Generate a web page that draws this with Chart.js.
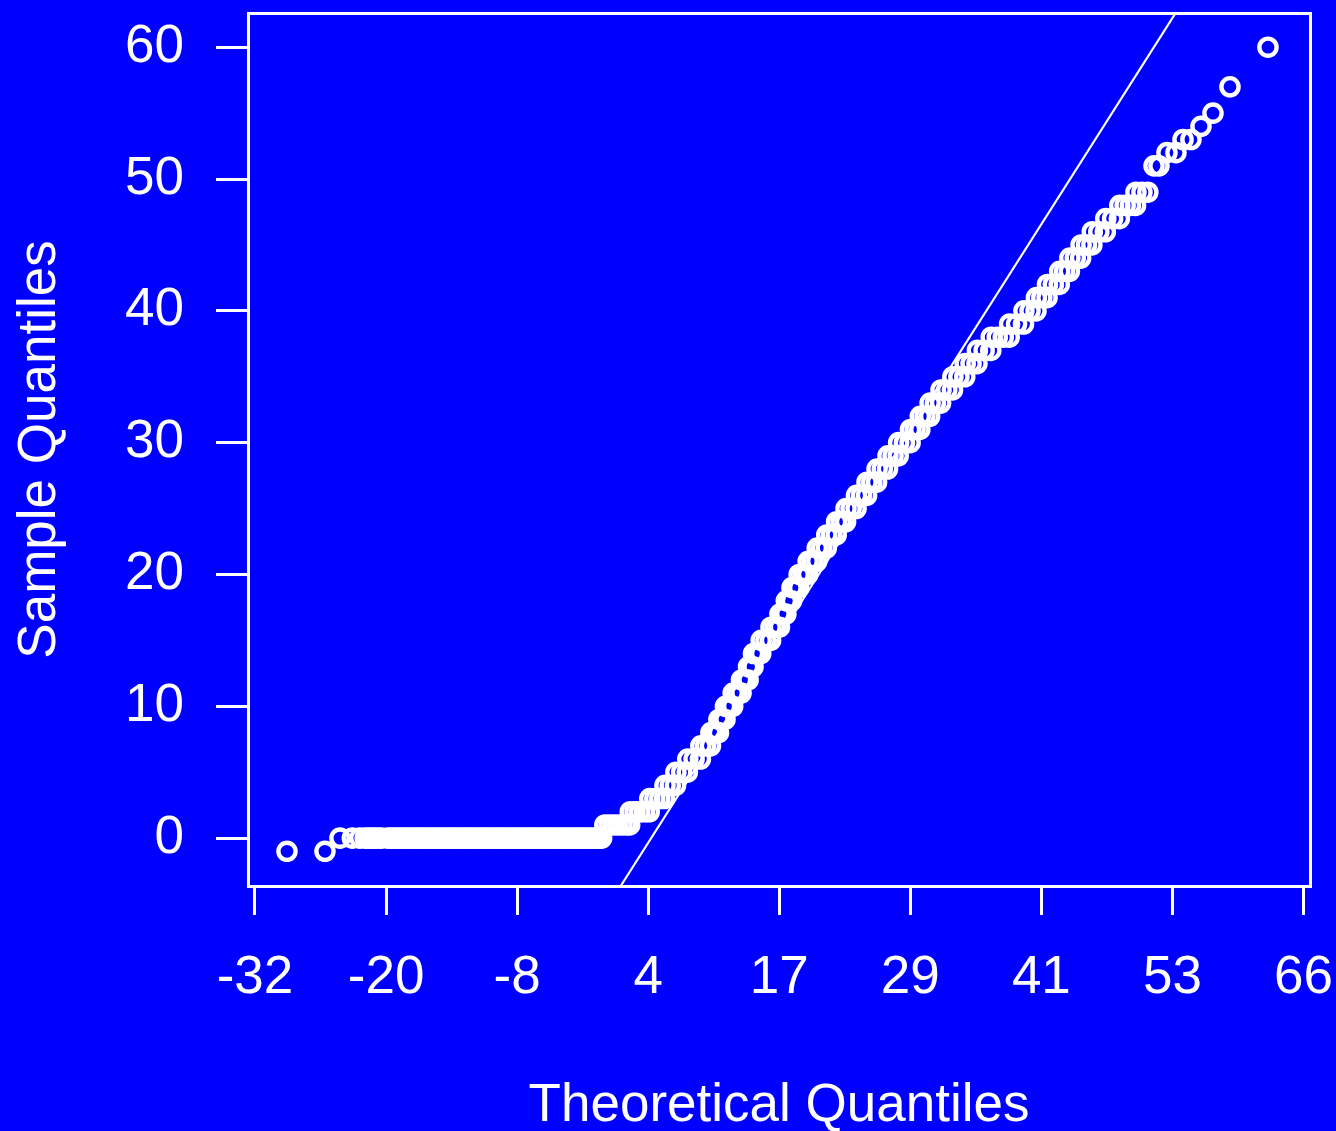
<!DOCTYPE html>
<html><head><meta charset="utf-8">
<script src="https://cdn.jsdelivr.net/npm/chart.js@4.4.1/dist/chart.umd.min.js"></script>
<style>html,body{margin:0;padding:0;background:#0000ff;overflow:hidden}</style>
</head><body>
<canvas id="c" width="1336" height="1131"></canvas>
<script>
// ---- data ----
const xTickValues = [-32.4, -20.15, -7.9, 4.35, 16.6, 28.85, 41.1, 53.35, 65.6];
const xTickLabels = ['-32', '-20', '-8', '4', '17', '29', '41', '53', '66'];
const yTickValues = [0, 10, 20, 30, 40, 50, 60];
const yTickLabels = ['0', '10', '20', '30', '40', '50', '60'];

// lowest sample values
const lowTailX = [-29.41, -25.86];
const lowTailY = [-1, -1];

// run of zero-valued samples
const zeroX = [-24.46,-23.3,-22.6,-22.1,-21.8,-21.5,-21.2,-20.9,-20.6,-20.0,-19.7,-19.4,-19.1,-18.8,-18.5,-18.2,-17.9,-17.6,-17.3,-17.0,-16.7,-16.4,-16.1,-15.8,-15.5,-15.2,-14.9,-14.6,-14.3,-14.0,-13.7,-13.4,-13.1,-12.8,-12.5,-12.2,-11.9,-11.6,-11.3,-11.0,-10.7,-10.4,-10.1,-9.8,-9.5,-9.2,-8.9,-8.6,-8.3,-8.0,-7.7,-7.4,-7.1,-6.8,-6.5,-6.2,-5.9,-5.6,-5.3,-5.0,-4.7,-4.4,-4.1,-3.8,-3.5,-3.2,-2.9,-2.6,-2.3,-2.0,-1.7,-1.4,-1.1,-0.8,-0.5,-0.2,0.0];
const zeroY = [0,0,0,0,0,0,0,0,0,0,0,0,0,0,0,0,0,0,0,0,0,0,0,0,0,0,0,0,0,0,0,0,0,0,0,0,0,0,0,0,0,0,0,0,0,0,0,0,0,0,0,0,0,0,0,0,0,0,0,0,0,0,0,0,0,0,0,0,0,0,0,0,0,0,0,0,0];

// main band: tied integer sample values 1..49 (one line per value)
const bandX = [
 0.30,0.70,1.10,1.50,1.90,2.30,2.62,
 2.68,3.12,3.56,4.00,4.45,
 4.50,4.97,5.43,5.88,
 5.92,6.41,6.90,
 6.94,7.48,8.01,
 8.05,8.64,9.23,
 9.27,9.72,10.17,
 10.21,10.57,10.92,
 10.96,11.25,11.53,
 11.57,11.91,12.25,
 12.29,12.66,13.03,
 13.07,13.38,13.69,
 13.73,13.94,14.15,
 14.19,14.53,14.87,
 14.91,15.35,15.79,
 15.83,16.22,16.62,
 16.66,16.94,17.22,
 17.26,17.50,17.75,
 17.79,18.10,18.42,
 18.46,18.86,19.26,
 19.30,19.70,20.11,
 20.15,20.57,21.00,
 21.04,21.48,21.92,
 21.96,22.38,22.80,
 22.84,23.31,23.78,
 23.82,24.29,24.76,
 24.80,25.25,25.70,
 25.74,26.23,26.72,
 26.76,27.24,27.72,
 27.76,28.30,28.83,
 28.87,29.30,29.74,
 29.78,30.22,30.66,
 30.70,31.19,31.68,
 31.72,32.26,32.79,
 32.83,33.39,33.94,
 33.98,34.53,35.08,
 35.12,35.75,36.37,
 36.41,36.98,37.54,38.09,
 38.13,38.78,39.43,
 39.47,40.04,40.60,
 40.64,41.14,41.63,
 41.67,42.22,42.77,
 42.81,43.27,43.72,
 43.76,44.27,44.77,
 44.81,45.32,45.82,
 45.86,46.47,47.08,
 47.12,47.76,48.39,
 48.43,48.93,49.42,49.90,
 49.94,50.50,51.05];
const bandY = [
 1,1,1,1,1,1,1,
 2,2,2,2,2,
 3,3,3,3,
 4,4,4,
 5,5,5,
 6,6,6,
 7,7,7,
 8,8,8,
 9,9,9,
 10,10,10,
 11,11,11,
 12,12,12,
 13,13,13,
 14,14,14,
 15,15,15,
 16,16,16,
 17,17,17,
 18,18,18,
 19,19,19,
 20,20,20,
 21,21,21,
 22,22,22,
 23,23,23,
 24,24,24,
 25,25,25,
 26,26,26,
 27,27,27,
 28,28,28,
 29,29,29,
 30,30,30,
 31,31,31,
 32,32,32,
 33,33,33,
 34,34,34,
 35,35,35,
 36,36,36,
 37,37,37,
 38,38,38,38,
 39,39,39,
 40,40,40,
 41,41,41,
 42,42,42,
 43,43,43,
 44,44,44,
 45,45,45,
 46,46,46,
 47,47,47,
 48,48,48,48,
 49,49,49];

// highest sample values
const highTailX = [51.63,52.09,52.84,53.68,54.34,55.08,56.02,57.14,58.73,62.28];
const highTailY = [51,51,52,52,53,53,54,55,57,60];

// reference (qq) line endpoints at the plot edges
const refLineX = [1.78, 53.65];
const refLineY = [-3.633, 62.596];

// ---- build ----
const theoreticalQ = [].concat(lowTailX, zeroX, bandX, highTailX);
const sampleQ = [].concat(lowTailY, zeroY, bandY, highTailY);
const pts = theoreticalQ.map((x, i) => ({x: x, y: sampleQ[i]}));
const linePts = refLineX.map((x, i) => ({x: x, y: refLineY[i]}));

const WHITE = '#ffffff';
const BLUE = '#0000ff';
const FONT = {family: '"Liberation Sans", Arial, Helvetica, sans-serif', size: 53, weight: 'normal', lineHeight: 1};

const bgPlugin = {
  id: 'bg',
  beforeDraw(chart) {
    const ctx = chart.ctx;
    ctx.save(); ctx.fillStyle = BLUE; ctx.fillRect(0, 0, chart.width, chart.height); ctx.restore();
  },
  afterDraw(chart) {
    const a = chart.chartArea, ctx = chart.ctx;
    ctx.save(); ctx.strokeStyle = WHITE; ctx.lineWidth = 3;
    ctx.strokeRect(a.left + 0.5, a.top + 0.5, a.right - a.left, a.bottom - a.top);
    ctx.restore();
  }
};

new Chart(document.getElementById('c'), {
  type: 'scatter',
  data: {
    datasets: [
      {
        label: 'sample',
        data: pts,
        pointStyle: 'circle',
        pointRadius: 8.6,
        pointHoverRadius: 8.6,
        pointBorderWidth: 4.4,
        pointBorderColor: WHITE,
        pointBackgroundColor: 'rgba(0,0,0,0)',
        showLine: false
      },
      {
        label: 'qqline',
        data: linePts,
        showLine: true,
        borderColor: WHITE,
        borderWidth: 2.2,
        pointRadius: 0,
        fill: false
      }
    ]
  },
  options: {
    responsive: false,
    animation: false,
    devicePixelRatio: 1,
    layout: {padding: {left: 0, top: 11, right: 26, bottom: 0}},
    plugins: {legend: {display: false}, tooltip: {enabled: false}},
    scales: {
      x: {
        type: 'linear', position: 'bottom',
        min: -33.054, max: 66.208,
        afterBuildTicks: s => { s.ticks = xTickValues.map(v => ({value: v})); },
        afterFit: s => { s.height = 245; s.paddingLeft = 0; s.paddingRight = 0; },
        grid: {display: true, drawOnChartArea: false, drawTicks: true, tickLength: 29, color: WHITE, lineWidth: 3},
        border: {display: false},
        ticks: {color: WHITE, font: FONT, padding: 37, maxRotation: 0, autoSkip: false,
                callback: (v, i) => xTickLabels[i]},
        title: {display: true, text: 'Theoretical Quantiles', color: WHITE, font: FONT, padding: {top: 0, bottom: -2}}
      },
      y: {
        type: 'linear', position: 'left',
        min: -3.633, max: 62.596,
        afterBuildTicks: s => { s.ticks = yTickValues.map(v => ({value: v})); },
        afterFit: s => { s.width = 248; s.paddingTop = 0; s.paddingBottom = 0; },
        grid: {display: true, drawOnChartArea: false, drawTicks: true, tickLength: 32, color: WHITE, lineWidth: 3},
        border: {display: false},
        ticks: {color: WHITE, font: FONT, padding: 32, autoSkip: false,
                callback: (v, i) => yTickLabels[i]},
        title: {display: true, text: 'Sample Quantiles', color: WHITE, font: FONT, padding: {top: 14, bottom: 0}}
      }
    }
  },
  plugins: [bgPlugin]
});
</script>
</body></html>
